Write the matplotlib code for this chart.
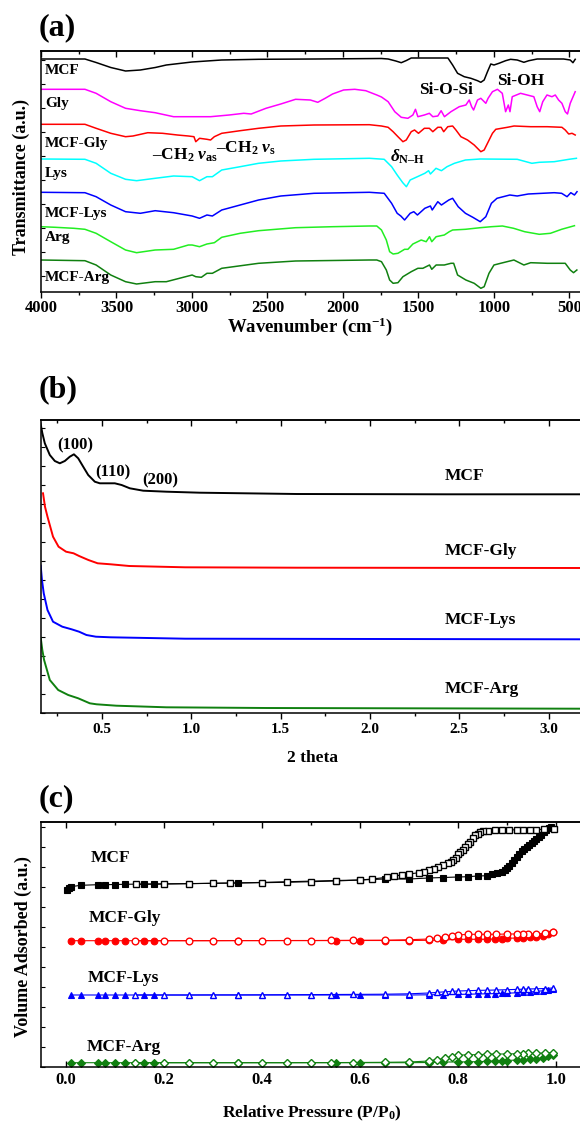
import matplotlib

matplotlib.use("Agg")  # non-GUI backend
import matplotlib.pyplot as plt
from matplotlib.ticker import FormatStrFormatter, MultipleLocator

plt.rcParams["font.family"] = ["Liberation Serif", "DejaVu Serif"]
plt.rcParams["font.weight"] = "bold"
plt.rcParams["mathtext.fontset"] = "custom"
plt.rcParams["mathtext.rm"] = "Liberation Serif:bold"
plt.rcParams["mathtext.it"] = "Liberation Serif:italic:bold"
plt.rcParams["mathtext.bf"] = "Liberation Serif:bold"
plt.rcParams["axes.linewidth"] = 1.1

# ---------------- (a) FTIR, stacked transmittance (a.u.) ----------------
mcf_wn = [4000, 3709, 3635, 3538, 3440, 3342, 3243, 3170, 3000, 2804, 2558, 2183, 1745, 1701, 1650,
          1614, 1580, 1548, 1462, 1305, 1274, 1241, 1197, 1153, 1109, 1087, 1065, 1043, 1021, 1000,
          967, 923, 890, 846, 802, 769, 714, 539, 495, 477, 462]
mcf_t = [241, 241, 237.5, 232.5, 229, 230, 232.5, 235, 238, 240, 240.7, 241, 241.5, 241, 239,
         237.3, 239.5, 242, 242, 242, 235, 226.7, 223.3, 221.7, 219.3, 217.7, 220, 228.3, 236, 235,
         236.7, 239.3, 240.7, 240, 237.7, 239.3, 241, 241, 240, 237.3, 240.7]

gly_wn = [4000, 3709, 3635, 3538, 3440, 3342, 3244, 3122, 3000, 2877, 2754, 2657, 2608, 2510, 2412,
          2314, 2216, 2167, 2118, 2069, 1996, 1922, 1849, 1776, 1745, 1701, 1657, 1614, 1570, 1537,
          1520, 1504, 1461, 1428, 1405, 1372, 1350, 1328, 1285, 1230, 1186, 1164, 1148, 1135, 1109,
          1087, 1054, 1039, 1010, 977, 945, 923, 905, 894, 879, 824, 736, 714, 697, 677,
          649, 616, 594, 572, 550, 528, 513, 495, 462]
gly_t = [210.7, 210.7, 206.7, 198.3, 191.7, 189.3, 187.3, 183.3, 183.3, 183.3, 185, 186.7, 186, 191.7, 196,
         200.7, 200, 197.7, 201.7, 206, 210, 210.7, 209.3, 205, 203, 198.3, 188.3, 182.7, 181.7, 185,
         190.7, 183.3, 185, 186.7, 183.3, 184, 189.3, 183.3, 188.3, 193.3, 195, 200, 193.3, 190, 200,
         201.7, 196.7, 201.7, 208.3, 210.7, 206.7, 188.3, 195, 188.3, 203.3, 206.7, 203.3, 193.3, 188.3, 198.3,
         205, 203.3, 205, 200, 196.7, 188.3, 186, 196.7, 208.3]

mcf_gly_wn = [4000, 3709, 3635, 3538, 3440, 3391, 3293, 3195, 3097, 3024, 2987, 2975, 2950, 2901, 2877,
              2852, 2803, 2681, 2559, 2412, 2192, 1825, 1745, 1701, 1668, 1636, 1603, 1581, 1548, 1526,
              1500, 1461, 1428, 1405, 1372, 1350, 1333, 1306, 1274, 1252, 1219, 1175, 1131, 1087, 1065,
              1043, 1010, 988, 911, 867, 757, 647, 550, 528, 505, 483, 462]
mcf_gly_t = [175.7, 175.7, 171.7, 166.7, 163.3, 164, 167.3, 166.7, 165, 164, 163.3, 158.3, 161.7, 160.7, 160,
             163.3, 166.7, 169.3, 171.7, 174, 175, 175.3, 174, 172.7, 168.3, 163.3, 158.3, 160, 168.3, 170,
             166.7, 171.7, 171.7, 168.3, 172.7, 172.7, 168.3, 173.3, 174, 170, 163.3, 160, 155, 148.3, 150,
             156.7, 166.7, 170.7, 172.7, 174, 173.3, 173.3, 172.7, 170, 166, 166.7, 165]

lys_wn = [4000, 3709, 3635, 3538, 3440, 3367, 3244, 3122, 2999, 2950, 2901, 2865, 2803, 2681, 2559,
          2412, 2192, 1825, 1727, 1678, 1641, 1604, 1580, 1555, 1507, 1458, 1433, 1421, 1384, 1348,
          1311, 1262, 1189, 1091, 846, 749, 700, 601, 503, 454]
lys_t = [141, 140.7, 136.7, 126.7, 120.7, 119.3, 121.7, 124, 123.3, 119.3, 123.3, 123.3, 130, 133.3, 136.7,
         139, 140.7, 141.7, 140.7, 133.3, 125, 117.3, 113.3, 120, 123.3, 126.7, 129.3, 126, 131.7, 129.3,
         133.3, 136.7, 140, 141, 140.7, 136.7, 137.7, 138.3, 140.7, 141.7]

mcf_lys_wn = [4000, 3709, 3635, 3538, 3440, 3342, 3244, 3122, 2999, 2950, 2901, 2865, 2803, 2681, 2559,
              2412, 2192, 1825, 1727, 1678, 1641, 1617, 1592, 1555, 1531, 1507, 1458, 1421, 1409, 1372,
              1348, 1299, 1274, 1237, 1189, 1140, 1091, 1054, 1017, 980, 895, 846, 773, 601, 552,
              516, 491, 467, 450]
mcf_lys_t = [107.7, 107.3, 103.3, 95, 88.3, 86.7, 89.3, 87.3, 84, 81.7, 85, 84, 90, 95, 100,
             104, 106.7, 107.7, 106.7, 96.7, 86.7, 84, 80, 86.7, 88.3, 85, 91.7, 94, 90, 98.3,
             95, 100, 101.7, 93.3, 86.7, 82.7, 78.3, 83.3, 96.7, 101.7, 105, 104, 106, 107.3, 106.7,
             103.3, 107.3, 105, 108.3]

arg_wn = [4000, 3905, 3782, 3709, 3635, 3538, 3440, 3367, 3244, 3122, 3024, 2999, 2950, 2901, 2852,
          2803, 2681, 2559, 2314, 2069, 1825, 1776, 1745, 1713, 1691, 1668, 1636, 1592, 1570, 1537,
          1482, 1449, 1427, 1412, 1383, 1329, 1296, 1274, 1189, 1091, 1017, 944, 870, 797, 700,
          626, 552, 467]
arg_t = [73.3, 72.7, 71.7, 70.7, 66.7, 58.3, 50, 47.3, 50, 50.7, 55, 55, 53.3, 56, 57.3,
         62.7, 66.7, 69.3, 72.3, 73.3, 74, 74, 70, 60, 48.3, 46, 46.7, 50.7, 50.7, 56,
         60, 58.3, 63.3, 58.3, 63.3, 65, 68.3, 70, 70.7, 72.3, 73.3, 74, 71.7, 68.3, 65.7,
         66.7, 70.7, 74.3]

mcf_arg_wn = [4000, 3709, 3635, 3538, 3440, 3367, 3244, 3170, 2999, 2975, 2938, 2901, 2865, 2803, 2559,
              2314, 1825, 1776, 1745, 1713, 1691, 1668, 1636, 1603, 1548, 1504, 1471, 1427, 1412, 1383,
              1329, 1285, 1267, 1241, 1186, 1131, 1087, 1065, 1033, 1000, 956, 868, 802, 757, 647,
              528, 495, 473, 451]
mcf_arg_t = [40, 39.3, 35, 25, 18.3, 16, 18.3, 18.3, 25, 23.3, 22.7, 26.7, 26.7, 31.7, 36.7,
             39, 40, 40, 38.3, 30, 20, 16.7, 17.3, 23.3, 28.3, 31.7, 31.7, 35, 30.7, 35,
             35, 36.7, 36.7, 25, 20, 16.7, 11.7, 13.3, 26.7, 35, 36.7, 40, 35, 37.3, 36.7,
             36.7, 30, 27.3, 30]

ftir_names = ["MCF", "Gly", "MCF-Gly", "Lys", "MCF-Lys", "Arg", "MCF-Arg"]
ftir_label_t = [230, 197, 156, 127, 87, 62, 22]

# ---------------- (b) low-angle XRD ----------------
xrd_mcf_x = [0.155, 0.165, 0.179, 0.207, 0.235, 0.263, 0.291, 0.319, 0.342, 0.366, 0.394, 0.422, 0.459,
             0.487, 0.571, 0.609, 0.655, 0.73, 0.86, 1.047, 1.59, 2.42, 3.19]
xrd_mcf_y = [289.7, 280, 269.7, 258, 252, 249.7, 252, 256.3, 258.7, 254.7, 246.3, 238, 231.3,
             229.7, 229.7, 228, 224.7, 222.3, 221.3, 220.3, 219, 218.7, 218.7]
xrd_gly_x = [0.169, 0.18, 0.194, 0.225, 0.256, 0.298, 0.34, 0.371, 0.423, 0.475, 0.548, 0.652, 0.965, 1.59, 3.19]
xrd_gly_y = [219.7, 206.3, 196.3, 176.3, 166.3, 161.3, 159.7, 157, 153, 149.7, 148.7, 147, 145.7, 145.3, 145]
xrd_lys_x = [0.156, 0.163, 0.173, 0.194, 0.225, 0.277, 0.329, 0.371, 0.412, 0.465, 0.548, 0.965, 3.19]
xrd_lys_y = [147.3, 133, 119.7, 103, 91.3, 86.3, 83.7, 81.3, 78, 76.3, 75.7, 74.3, 73.7]
xrd_arg_x = [0.156, 0.165, 0.175, 0.207, 0.254, 0.31, 0.366, 0.431, 0.469, 0.58, 0.86, 1.42, 3.19]
xrd_arg_y = [75.3, 63, 53, 33, 23, 18, 14.7, 9.7, 8.7, 7.3, 5.7, 5, 4.3]

xrd_names = ["MCF", "MCF-Gly", "MCF-Lys", "MCF-Arg"]
xrd_label_y = [237, 162, 93, 24]
peak_names = ["(100)", "(110)", "(200)"]
peak_x = [0.35, 0.558, 0.823]
peak_y = [268, 241, 233]

# ---------------- (c) N2 isotherms ----------------
mcf_ads_p = [0.002, 0.006, 0.01, 0.03, 0.065, 0.08, 0.10, 0.12, 0.16, 0.18, 0.35, 0.55, 0.60, 0.65, 0.70,
             0.74, 0.77, 0.80, 0.82, 0.84, 0.86, 0.87, 0.88, 0.89, 0.895, 0.90, 0.905, 0.91, 0.915, 0.92,
             0.925, 0.93, 0.935, 0.94, 0.945, 0.95, 0.955, 0.96, 0.965, 0.97, 0.975, 0.98, 0.985, 0.99]
mcf_ads_v = [177, 179, 180.3, 181.7, 182.3, 182.3, 182.5, 182.7, 183, 183, 184, 186.5, 187, 188, 188,
             189, 189.5, 190, 190.3, 191, 191.3, 193, 194, 195.5, 197, 199, 201, 204, 207, 210,
             213.5, 216, 218, 220.5, 222.5, 224, 226, 228, 230, 232.5, 235, 237, 238.7, 240.3]
mcf_des_p = [0.995, 0.975, 0.96, 0.947, 0.933, 0.92, 0.905, 0.89, 0.876, 0.861, 0.85, 0.845, 0.84, 0.835,
             0.83, 0.825, 0.82, 0.815, 0.81, 0.805, 0.80, 0.795, 0.79, 0.785, 0.78, 0.77, 0.76, 0.75,
             0.74, 0.73, 0.72, 0.70, 0.685, 0.67, 0.655, 0.625, 0.60, 0.55, 0.50, 0.45, 0.40, 0.335,
             0.30, 0.25, 0.20, 0.143]
mcf_des_v = [238, 237.7, 237.5, 237.5, 237.3, 237.3, 237, 237, 236.7, 236.5, 236.3, 235, 233.5, 232,
             229, 225.3, 223, 220.3, 217.5, 215, 213, 209.5, 207.5, 205.3, 204, 202, 199.7, 198,
             196.7, 195.3, 194.3, 193, 192, 191, 189.7, 188, 187, 186, 185.3, 184.7, 184.3, 184,
             183.7, 183.3, 183, 182.7]

ads_p = [0.01, 0.03, 0.065, 0.08, 0.10, 0.12, 0.16, 0.18, 0.35, 0.55, 0.60, 0.65, 0.70, 0.74, 0.77,
         0.80, 0.82, 0.84, 0.86, 0.875, 0.89, 0.90, 0.92, 0.933, 0.947, 0.96, 0.974, 0.984, 0.994]
des_p = [0.994, 0.978, 0.96, 0.943, 0.933, 0.92, 0.90, 0.878, 0.86, 0.84, 0.82, 0.80, 0.787, 0.773,
         0.757, 0.741, 0.70, 0.65, 0.585, 0.54, 0.50, 0.45, 0.40, 0.35, 0.30, 0.25, 0.20, 0.14]

gly_ads_v = [126.3, 126.3, 126.3, 126.3, 126.3, 126.3, 126.3, 126.3, 126.4, 126.4, 126.5, 126.5, 126.5, 126.7, 127,
             127.7, 127.7, 127.7, 127.7, 128, 128.3, 128.7, 129, 129.3, 130, 130.3, 131.3, 132.7, 134.7]
gly_des_v = [134.7, 133.7, 133, 133, 133, 133, 133, 132.7, 132.7, 132.7, 132.7, 132, 131.3, 130.3,
             129.3, 128, 127.3, 126.8, 126.7, 126.6, 126.5, 126.5, 126.4, 126.4, 126.3, 126.3, 126.3, 126.3]
lys_ads_v = [72, 72, 72, 72, 72, 72, 72, 72, 72, 72, 72, 72, 72, 72.2, 72.4,
             72.6, 72.8, 73, 73.2, 73.4, 73.6, 73.8, 74.2, 74.6, 75, 75.6, 76.3, 77, 78]
lys_des_v = [79, 78.5, 78.2, 78, 77.8, 77.6, 77.3, 77, 76.8, 76.6, 76.3, 76, 75.6, 75.2,
             74.6, 74, 73.2, 72.8, 72.6, 72.5, 72.4, 72.3, 72.2, 72.1, 72.1, 72, 72, 72]
arg_ads_v = [4.3, 4.3, 4.3, 4.3, 4.3, 4.3, 4.3, 4.3, 4.3, 4.3, 4.3, 4.3, 4.3, 4.5, 5,
             5, 5.2, 5.3, 5.7, 6, 6.3, 6.5, 7, 7.3, 7.7, 8.3, 9.3, 10.7, 12.3]
arg_des_v = [14.3, 14, 13.7, 13.7, 13.5, 13.3, 13, 13, 12.8, 12.3, 12.3, 11.7, 10.3, 8.7,
             7.5, 6, 5, 4.7, 4.5, 4.4, 4.4, 4.3, 4.3, 4.3, 4.3, 4.3, 4.3, 4.3]

iso_names = ["MCF", "MCF-Gly", "MCF-Lys", "MCF-Arg"]
iso_label_p = [0.051, 0.047, 0.044, 0.043]
iso_label_v = [209, 149, 89, 20]

W, H = 580, 1125


def _box(ax, left_px, top_px, width_px, height_px):
    ax.set_position([left_px / W, 1 - (top_px + height_px) / H, width_px / W, height_px / H])
    ax.spines["right"].set_visible(False)


def _top_ticks(ax, major, minor):
    sec = ax.secondary_xaxis("top")
    sec.xaxis.set_major_locator(MultipleLocator(major))
    sec.xaxis.set_minor_locator(MultipleLocator(minor))
    sec.tick_params(which="both", direction="in", labeltop=False, width=1.0)
    sec.tick_params(which="major", length=4)
    sec.tick_params(which="minor", length=2.5)
    sec.spines["top"].set_linewidth(1.1)


fig = plt.figure(figsize=(W / 100, H / 100), dpi=100)

# ---- (a)
ax = fig.add_axes([0, 0, 1, 1])
_box(ax, 41, 51, 541, 241)
ftir_colors = ["black", "#ff00ff", "#ff0000", "#00ffff", "#0000ff", "#22ee22", "#108010"]
ftir_data = [(mcf_wn, mcf_t), (gly_wn, gly_t), (mcf_gly_wn, mcf_gly_t), (lys_wn, lys_t),
             (mcf_lys_wn, mcf_lys_t), (arg_wn, arg_t), (mcf_arg_wn, mcf_arg_t)]
for (wn, t), c in zip(ftir_data, ftir_colors):
    ax.plot(wn, t, color=c, lw=1.1)
for name, ty in zip(ftir_names, ftir_label_t):
    ax.text(3975, ty, name, fontsize=11, ha="left", va="center")
ax.text(1318, 210, "Si-O-Si", fontsize=12.5, ha="center", va="center")
ax.text(820, 219.3, "Si-OH", fontsize=12.5, ha="center", va="center")
ax.text(3044, 145, r"–CH$_2$ $\nu_{\rm as}$", fontsize=12.5, ha="center", va="center")
ax.text(2645, 152, r"–CH$_2$ $\nu_{\rm s}$", fontsize=12.5, ha="center", va="center")
ax.text(1570, 143, r"$\delta_{\rm N–H}$", fontsize=12.5, ha="center", va="center")
ax.set_xlim(4000, 417)
ax.set_ylim(8, 249)
ax.xaxis.set_major_locator(MultipleLocator(500))
ax.xaxis.set_minor_locator(MultipleLocator(250))
ax.tick_params(axis="x", which="both", direction="out", labelsize=12, width=1.0, pad=2)
ax.tick_params(axis="x", which="major", length=4)
ax.tick_params(axis="x", which="minor", length=2.5)
ax.yaxis.set_major_locator(MultipleLocator(24))
ax.tick_params(axis="y", direction="in", length=3, labelleft=False)
_top_ticks(ax, 500, 250)
ax.set_xlabel("Wavenumber (cm$^{-1}$)", fontsize=13.5, fontweight="bold")
ax.xaxis.set_label_coords(0.497, -0.145)
ax.xaxis.label.set_va("center")
ax.set_ylabel("Transmittance (a.u.)", fontsize=13, fontweight="bold")
ax.yaxis.set_label_coords(-0.036, 0.477)
ax.yaxis.label.set_va("center")
fig.text(39 / W, 1 - 28 / H, "(a)", fontsize=23, ha="left", va="center")

# ---- (b)
ax = fig.add_axes([0, 0, 1, 1])
_box(ax, 40.7, 420, 541.3, 293)
xrd_colors = ["black", "#ff0000", "#0000ff", "#108010"]
xrd_data = [(xrd_mcf_x, xrd_mcf_y), (xrd_gly_x, xrd_gly_y), (xrd_lys_x, xrd_lys_y), (xrd_arg_x, xrd_arg_y)]
for (x, y), c in zip(xrd_data, xrd_colors):
    ax.plot(x, y, color=c, lw=1.4)
for name, ly in zip(xrd_names, xrd_label_y):
    ax.text(2.42, ly, name, fontsize=12.5, ha="left", va="center")
for name, px, py in zip(peak_names, peak_x, peak_y):
    ax.text(px, py, name, fontsize=12, ha="center", va="center")
ax.set_xlim(0.156, 3.187)
ax.set_ylim(0, 293)
ax.xaxis.set_major_locator(MultipleLocator(0.5))
ax.xaxis.set_minor_locator(MultipleLocator(0.25))
ax.xaxis.set_major_formatter(FormatStrFormatter("%.1f"))
ax.tick_params(axis="x", which="both", direction="out", labelsize=11, width=1.0)
ax.tick_params(axis="x", which="major", length=4)
ax.tick_params(axis="x", which="minor", length=2.5)
ax.yaxis.set_major_locator(MultipleLocator(19))
ax.tick_params(axis="y", direction="in", length=3, labelleft=False)
_top_ticks(ax, 0.5, 0.25)
ax.set_xlabel("2 theta", fontsize=12.5, fontweight="bold")
ax.xaxis.set_label_coords(0.503, -0.154)
ax.xaxis.label.set_va("center")
fig.text(39 / W, 1 - 390 / H, "(b)", fontsize=23, ha="left", va="center")

# ---- (c)
ax = fig.add_axes([0, 0, 1, 1])
_box(ax, 41, 822, 541, 245)
iso_colors = ["black", "#ff0000", "#0000ff", "#108010"]
iso_markers = ["s", "o", "^", "D"]
iso_data = [(mcf_ads_p, mcf_ads_v, mcf_des_p, mcf_des_v),
            (ads_p, gly_ads_v, des_p, gly_des_v),
            (ads_p, lys_ads_v, des_p, lys_des_v),
            (ads_p, arg_ads_v, des_p, arg_des_v)]
for (ap, av, dp, dv), c, m in zip(iso_data, iso_colors, iso_markers):
    ms = 4.3 if m == "D" else 4.8
    ax.plot(ap, av, color=c, lw=0.8, marker=m, ms=ms, mfc=c, mec=c, mew=0.8, clip_on=False)
    ax.plot(dp, dv, color=c, lw=0.8, marker=m, ms=ms, mfc="white", mec=c, mew=1.0, clip_on=False)
for name, lp, lv in zip(iso_names, iso_label_p, iso_label_v):
    ax.text(lp, lv, name, fontsize=12.5, ha="left", va="center")
ax.set_xlim(-0.051, 1.053)
ax.set_ylim(0, 245)
ax.xaxis.set_major_locator(MultipleLocator(0.2))
ax.xaxis.set_minor_locator(MultipleLocator(0.1))
ax.xaxis.set_major_formatter(FormatStrFormatter("%.1f"))
ax.tick_params(axis="x", which="both", direction="in", labelsize=12, width=1.0)
ax.tick_params(axis="x", which="major", length=4)
ax.tick_params(axis="x", which="minor", length=2.5)
ax.yaxis.set_major_locator(MultipleLocator(20))
ax.tick_params(axis="y", direction="in", length=3, labelleft=False)
_top_ticks(ax, 0.2, 0.1)
ax.set_xlabel("Relative Pressure (P/P$_0$)", fontsize=12.5, fontweight="bold")
ax.xaxis.set_label_coords(0.5, -0.188)
ax.xaxis.label.set_va("center")
ax.set_ylabel("Volume Adsorbed (a.u.)", fontsize=13, fontweight="bold")
ax.yaxis.set_label_coords(-0.033, 0.49)
ax.yaxis.label.set_va("center")
fig.text(39 / W, 1 - 799 / H, "(c)", fontsize=23, ha="left", va="center")

fig.savefig("out.png", dpi=100)
plt.close(fig)
